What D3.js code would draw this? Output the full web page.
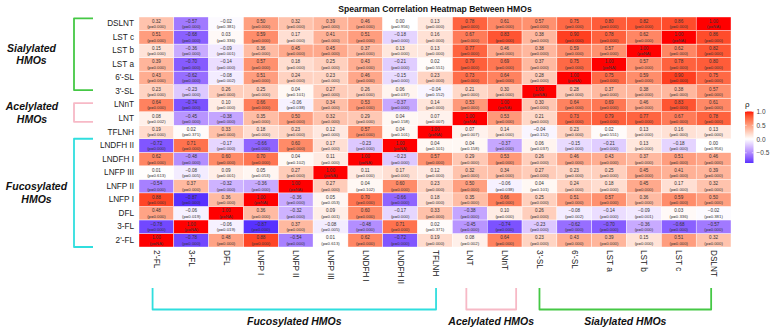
<!DOCTYPE html>
<html>
<head>
<meta charset="utf-8">
<script src="https://cdn.jsdelivr.net/npm/d3@7"></script>
<style>
  body { margin: 0; background: #fff; }
  svg { display: block; font-family: "Liberation Sans", Arial, sans-serif; }
</style>
</head>
<body>
<div class="chart"></div>
<script>
// HMO order, left->right on x, bottom->top on y
let hmos = ["2'-FL", "3-FL", "DFL", "LNFP I", "LNFP II", "LNFP III", "LNDFH I", "LNDFH II", "TFLNH",
  "LNT", "LNnT", "3'-SL", "6'-SL", "LST a", "LST b", "LST c", "DSLNT"]

// spearman rho, rows/cols in the same order as hmos
let rho = [
  [1.00, -0.78, 0.48, 0.88, -0.54, 0.01, 0.62, -0.72, 0.19, 0.08, 0.64, 0.23, 0.43, 0.39, 0.15, 0.51, 0.32],
  [-0.78, 1.00, -0.06, -0.87, 0.37, -0.08, -0.48, 0.71, 0.02, -0.45, -0.74, -0.23, -0.62, -0.70, -0.36, -0.68, -0.57],
  [0.48, -0.06, 1.00, 0.36, -0.32, 0.09, 0.60, -0.17, 0.33, -0.38, 0.10, 0.26, -0.08, -0.14, -0.09, 0.03, -0.02],
  [0.88, -0.87, 0.36, 1.00, -0.36, 0.05, 0.70, -0.66, 0.18, 0.35, 0.66, 0.25, 0.51, 0.57, 0.36, 0.59, 0.50],
  [-0.54, 0.37, -0.32, -0.36, 1.00, 0.27, 0.04, 0.60, 0.23, 0.50, -0.06, 0.04, 0.24, 0.18, 0.45, 0.17, 0.32],
  [0.01, -0.08, 0.09, 0.05, 0.27, 1.00, 0.11, 0.17, 0.12, 0.32, 0.34, 0.27, 0.23, 0.25, 0.45, 0.41, 0.39],
  [0.62, -0.48, 0.60, 0.70, 0.04, 0.11, 1.00, -0.23, 0.57, 0.29, 0.53, 0.26, 0.46, 0.43, 0.37, 0.51, 0.46],
  [-0.72, 0.71, -0.17, -0.66, 0.60, 0.17, -0.23, 1.00, 0.04, 0.04, -0.37, 0.06, -0.15, -0.21, 0.13, -0.18, 0.00],
  [0.19, 0.02, 0.33, 0.18, 0.23, 0.12, 0.57, 0.04, 1.00, 0.07, 0.14, -0.04, 0.23, 0.02, 0.13, 0.16, 0.13],
  [0.08, -0.45, -0.38, 0.35, 0.50, 0.32, 0.29, 0.04, 0.07, 1.00, 0.53, 0.21, 0.73, 0.79, 0.77, 0.67, 0.78],
  [0.64, -0.74, 0.10, 0.66, -0.06, 0.34, 0.53, -0.37, 0.14, 0.53, 1.00, 0.30, 0.64, 0.69, 0.46, 0.83, 0.61],
  [0.23, -0.23, 0.26, 0.25, 0.04, 0.27, 0.26, 0.06, -0.04, 0.21, 0.30, 1.00, 0.28, 0.37, 0.38, 0.38, 0.57],
  [0.43, -0.62, -0.08, 0.51, 0.24, 0.23, 0.46, -0.15, 0.23, 0.73, 0.64, 0.28, 1.00, 0.75, 0.59, 0.90, 0.75],
  [0.39, -0.70, -0.14, 0.57, 0.18, 0.25, 0.43, -0.21, 0.02, 0.79, 0.69, 0.37, 0.75, 1.00, 0.57, 0.78, 0.80],
  [0.15, -0.36, -0.09, 0.36, 0.45, 0.45, 0.37, 0.13, 0.13, 0.77, 0.46, 0.38, 0.59, 0.57, 1.00, 0.62, 0.82],
  [0.51, -0.68, 0.03, 0.59, 0.17, 0.41, 0.51, -0.18, 0.16, 0.67, 0.83, 0.38, 0.90, 0.78, 0.62, 1.00, 0.86],
  [0.32, -0.57, -0.02, 0.50, 0.32, 0.39, 0.46, 0.00, 0.13, 0.78, 0.61, 0.57, 0.75, 0.80, 0.82, 0.86, 1.00]
]

// p-values that are not 0.000 (symmetric); diagonal is NA
let pNonZero = [
  ["DSLNT", "DFL", "0.381"], ["LST c", "DFL", "0.336"], ["LST b", "DFL", "0.001"], ["6'-SL", "DFL", "0.002"],
  ["DSLNT", "LNDFH II", "0.956"], ["LST a", "TFLNH", "0.551"], ["3'-SL", "LNFP II", "0.101"],
  ["3'-SL", "LNDFH II", "0.037"], ["3'-SL", "TFLNH", "0.152"], ["LNnT", "LNFP II", "0.038"],
  ["LNT", "2'-FL", "0.002"], ["LNT", "LNDFH II", "0.158"], ["LNT", "TFLNH", "0.007"],
  ["TFLNH", "3-FL", "0.371"], ["TFLNH", "LNDFH II", "0.101"], ["LNDFH I", "LNFP II", "0.102"],
  ["LNFP III", "2'-FL", "0.613"], ["LNFP III", "3-FL", "0.005"], ["LNFP III", "DFL", "0.001"],
  ["LNFP III", "LNFP I", "0.053"], ["DFL", "3-FL", "0.019"]
]

let legendTicks = [1.0, 0.5, 0.0, -0.5]

let leftGroups = [
  { name: ["Sialylated", "HMOs"], from: "DSLNT", to: "3'-SL", color: "#45c845", cx: 31.5 },
  { name: ["Acelylated", "HMOs"], from: "LNnT", to: "LNT", color: "#f7b9c6", cx: 32 },
  { name: ["Fucosylated", "HMOs"], from: "LNDFH II", to: "2'-FL", color: "#30dede", cx: 36.5 }
]
let bottomGroups = [
  { name: "Fucosylated HMOs", from: "2'-FL", to: "TFLNH", color: "#30dede" },
  { name: "Acelylated HMOs", from: "LNT", to: "LNnT", color: "#f7b9c6" },
  { name: "Sialylated HMOs", from: "3'-SL", to: "DSLNT", color: "#45c845" }
]

let width = 772, height = 334
let grid = { left: 139, right: 731, top: 17, bottom: 247 }

let svg = d3.select(".chart")
  .append("svg")
  .attr("width", width)
  .attr("height", height)

let x = d3.scaleBand().domain(hmos).range([grid.left, grid.right])
let y = d3.scaleBand().domain(hmos.slice().reverse()).range([grid.top, grid.bottom])

let rhoMin = d3.min(rho.flat())
// ggplot gradient2 style: lab interpolation, midpoint 0
let toRed = d3.interpolateLab("#ffffff", "#ff0000")
let toBlue = d3.interpolateLab("#ffffff", "#0000ff")
let color = v => v >= 0 ? toRed(Math.min(v, 1)) : toBlue(Math.min(-v, 1))

let pLookup = {}
pNonZero.forEach(([a, b, p]) => { pLookup[a + "|" + b] = p; pLookup[b + "|" + a] = p })

let cells = []
hmos.forEach((r, i) => {
  hmos.forEach((c, j) => {
    let p = i === j ? "NA" : (pLookup[r + "|" + c] || "0.000")
    cells.push({ row: r, col: c, v: rho[i][j], p: p })
  })
})

svg.append("text")
  .attr("x", (grid.left + grid.right) / 2)
  .attr("y", 12)
  .attr("text-anchor", "middle")
  .attr("font-size", 8.6)
  .attr("font-weight", "bold")
  .attr("fill", "#111")
  .text("Spearman Correlation Heatmap Between HMOs")

let cell = svg.append("g")
  .selectAll("g")
  .data(cells)
  .enter()
  .append("g")
  .attr("transform", d => `translate(${x(d.col)},${y(d.row)})`)

cell.append("rect")
  .attr("width", x.bandwidth())
  .attr("height", y.bandwidth())
  .attr("fill", d => color(d.v))
  .attr("stroke", "#fff")
  .attr("stroke-width", 0.4)

cell.append("text")
  .attr("x", x.bandwidth() / 2)
  .attr("y", y.bandwidth() / 2 - 2.4)
  .attr("text-anchor", "middle")
  .attr("dominant-baseline", "central")
  .attr("font-size", 4.6)
  .attr("fill", "#333")
  .text(d => d3.format(".2f")(d.v))

cell.append("text")
  .attr("x", x.bandwidth() / 2)
  .attr("y", y.bandwidth() / 2 + 3)
  .attr("text-anchor", "middle")
  .attr("dominant-baseline", "central")
  .attr("font-size", 4.3)
  .attr("fill", "#333")
  .text(d => `(p=${d.p})`)

// row labels
svg.append("g")
  .selectAll("text")
  .data(hmos)
  .enter()
  .append("text")
  .attr("x", grid.left - 5)
  .attr("y", d => y(d) + y.bandwidth() / 2)
  .attr("text-anchor", "end")
  .attr("dominant-baseline", "central")
  .attr("font-size", 8.2)
  .attr("fill", "#222")
  .text(d => d)

// column labels, rotated
svg.append("g")
  .selectAll("text")
  .data(hmos)
  .enter()
  .append("text")
  .attr("transform", d => `translate(${x(d) + x.bandwidth() / 2},${grid.bottom + 3}) rotate(90)`)
  .attr("text-anchor", "start")
  .attr("dominant-baseline", "central")
  .attr("font-size", 8.2)
  .attr("fill", "#222")
  .text(d => d)

// left brackets
let bw = y.bandwidth()
let leftInset = { "Sialylated": [0.1, 0.4], "Acelylated": [0.37, 0.75], "Fucosylated": [0, 1] }
leftGroups.forEach(g => {
  let ins = leftInset[g.name[0]]
  let y0 = y(g.from) + ins[0] * bw
  let y1 = y(g.to) + ins[1] * bw
  svg.append("path")
    .attr("d", `M93,${y0} H74 V${y1} H93`)
    .attr("fill", "none")
    .attr("stroke", g.color)
    .attr("stroke-width", 1.8)
    .attr("stroke-linejoin", "round")
  let mid = (y0 + y1) / 2
  svg.append("text")
    .attr("x", g.cx)
    .attr("y", mid - 6.5)
    .attr("text-anchor", "middle")
    .attr("dominant-baseline", "central")
    .attr("font-size", 10.5)
    .attr("font-weight", "bold")
    .attr("font-style", "italic")
    .attr("fill", "#111")
    .selectAll("tspan")
    .data(g.name)
    .enter()
    .append("tspan")
    .attr("x", g.cx)
    .attr("dy", (d, i) => i === 0 ? 0 : 12.5)
    .text(d => d)
})

// bottom brackets
let xw = x.bandwidth()
let bottomInset = { "Fucosylated HMOs": [0.39, 0.53], "Acelylated HMOs": [0.4, 0.83], "Sialylated HMOs": [0.5, 0.43] }
bottomGroups.forEach(g => {
  let ins = bottomInset[g.name]
  let x0 = x(g.from) + ins[0] * xw
  let x1 = x(g.to) + ins[1] * xw
  svg.append("path")
    .attr("d", `M${x0},288 V309.5 H${x1} V288`)
    .attr("fill", "none")
    .attr("stroke", g.color)
    .attr("stroke-width", 1.8)
    .attr("stroke-linejoin", "round")
  svg.append("text")
    .attr("x", (x0 + x1) / 2)
    .attr("y", 320.5)
    .attr("text-anchor", "middle")
    .attr("dominant-baseline", "central")
    .attr("font-size", 10.5)
    .attr("font-weight", "bold")
    .attr("font-style", "italic")
    .attr("fill", "#111")
    .text(g.name)
})

// legend colour bar
let legY = d3.scaleLinear().domain([rhoMin, 1]).range([163, 111.5])
let defs = svg.append("defs")
let grad = defs.append("linearGradient")
  .attr("id", "rhoGrad")
  .attr("x1", 0).attr("y1", 1).attr("x2", 0).attr("y2", 0)
d3.range(0, 1.0001, 0.02).forEach(t => {
  let v = rhoMin + t * (1 - rhoMin)
  grad.append("stop").attr("offset", t).attr("stop-color", color(v))
})

let leg = svg.append("g")
leg.append("text")
  .attr("x", 745)
  .attr("y", 107)
  .attr("font-size", 8)
  .attr("fill", "#222")
  .text("ρ")
leg.append("rect")
  .attr("x", 745)
  .attr("y", legY(1))
  .attr("width", 8.5)
  .attr("height", legY(rhoMin) - legY(1))
  .attr("fill", "url(#rhoGrad)")
leg.selectAll(".tk")
  .data(legendTicks)
  .enter()
  .append("g")
  .each(function (d) {
    let g = d3.select(this)
    g.append("line").attr("x1", 745).attr("x2", 746.7).attr("y1", legY(d)).attr("y2", legY(d))
      .attr("stroke", "#fff").attr("stroke-width", 0.6)
    g.append("line").attr("x1", 751.8).attr("x2", 753.5).attr("y1", legY(d)).attr("y2", legY(d))
      .attr("stroke", "#fff").attr("stroke-width", 0.6)
    g.append("text")
      .attr("x", 756.5)
      .attr("y", legY(d))
      .attr("dominant-baseline", "central")
      .attr("font-size", 6.5)
      .attr("fill", "#444")
      .text(d3.format(".1f")(d))
  })
</script>
</body>
</html>
